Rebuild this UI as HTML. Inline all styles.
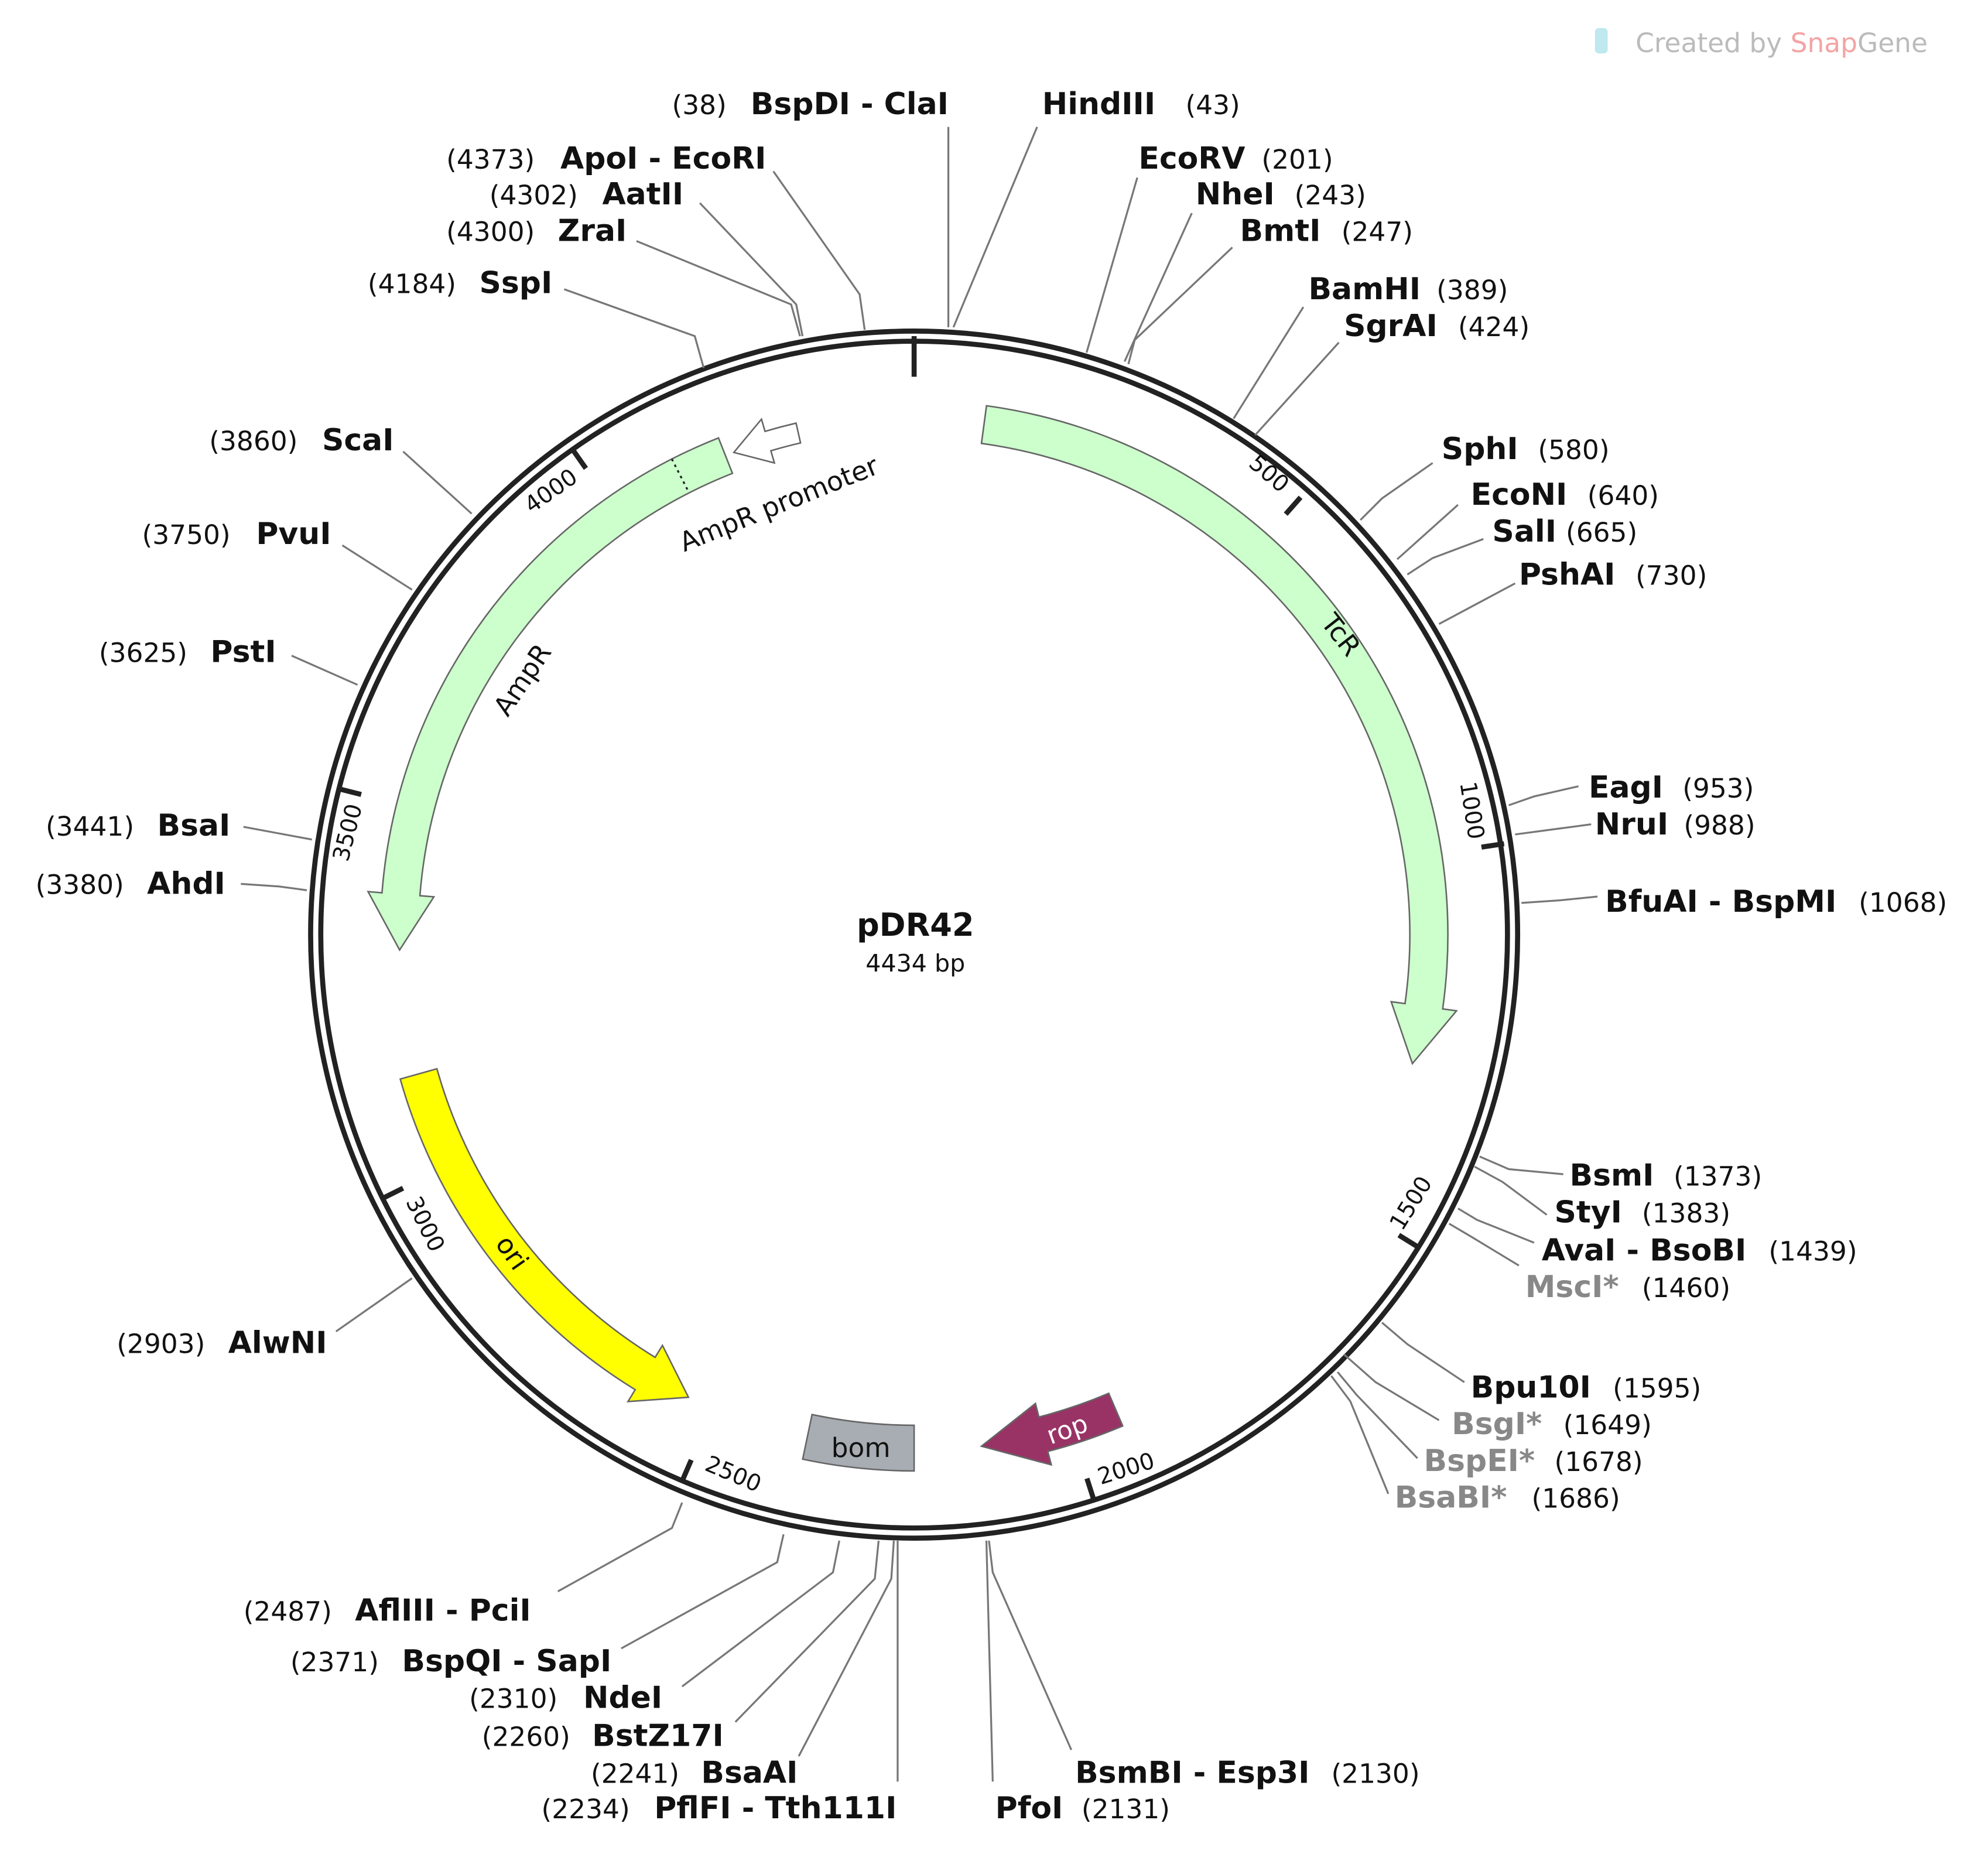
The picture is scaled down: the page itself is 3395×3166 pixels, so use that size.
<!DOCTYPE html>
<html><head><meta charset="utf-8"><style>
html,body{margin:0;padding:0;background:#fff;}
svg{display:block;}
text{font-family:"DejaVu Sans","Liberation Sans",sans-serif;}
.b{font-weight:bold;font-size:24px;fill:#111;}
.n{font-size:21px;fill:#111;}
.g{font-weight:bold;font-size:24px;fill:#888;}
.t{font-size:21px;fill:#111;}
.k{font-size:18px;fill:#111;}
.l{fill:none;stroke:#777;stroke-width:1.5;}
</style></head><body>
<svg width="3395" height="3166" viewBox="0 0 1568 1462" xmlns="http://www.w3.org/2000/svg">
<rect width="1568" height="1462" fill="#fff"/>
<rect x="1258" y="22" width="10" height="20" rx="3" fill="#bfe8ef"/>
<text x="1290" y="41" style="font-size:21px;fill:#bbb">Created by <tspan fill="#f4a3a3">Snap</tspan><tspan fill="#bbb">Gene</tspan></text>

<path d="M778.1,319.9 A421,421 0 0 1 1137.9,795.6 L1148.8,797.1 L1114,838.7 L1097.3,789.9 L1108.2,791.4 A391,391 0 0 0 774.1,349.6 Z" fill="#ccffcc" stroke="#666" stroke-width="1.2"/>
<path d="M566.7,345.3 A421,421 0 0 0 301.3,704 L290.3,703.1 L315.2,749.1 L342.2,707.2 L331.2,706.3 A391,391 0 0 1 577.7,373.2 Z" fill="#ccffcc" stroke="#666" stroke-width="1.2"/>
<line x1="529.9" y1="361.9" x2="543.5" y2="388.6" stroke="#222" stroke-width="1.5" stroke-dasharray="2,3"/>
<path d="M627.9,333.6 A414,414 0 0 0 603.4,340.1 L600.6,330.5 L578.8,356.7 L610.8,365 L608,355.4 A398,398 0 0 1 631.4,349.2 Z" fill="#fff" stroke="#666" stroke-width="1.2"/>
<path d="M315.7,850.9 A421,421 0 0 0 501,1095.9 L495.3,1105.3 L543,1101.9 L522.5,1061 L516.7,1070.4 A391,391 0 0 1 344.6,842.8 Z" fill="#ffff00" stroke="#666" stroke-width="1.2"/>
<path d="M640.5,1115.5 A387,387 0 0 0 721,1124 L721,1160 A423,423 0 0 1 633.1,1150.7 Z" fill="#a8adb3" stroke="#666" stroke-width="1.2"/>
<text x="679" y="1149" class="t" text-anchor="middle">bom</text>
<path d="M885.5,1124.5 A421,421 0 0 1 826.4,1144.6 L829.2,1155.2 L774.1,1140.5 L816.7,1106.8 L819.4,1117.5 A393,393 0 0 0 874.5,1098.8 Z" fill="#993366" stroke="#666" stroke-width="1.2"/>
<text x="842" y="1134" text-anchor="middle" transform="rotate(-20 842 1128)" style="font-size:20px;fill:#fff">rop</text>

<text transform="translate(1052,505) rotate(52)" class="t" text-anchor="middle">TcR</text>
<text transform="translate(418,540) rotate(-56)" class="t" text-anchor="middle">AmpR</text>
<text transform="translate(617,404) rotate(-22)" class="t" text-anchor="middle">AmpR promoter</text>
<text transform="translate(398,992) rotate(55)" class="t" text-anchor="middle">ori</text>

<circle cx="721" cy="737" r="476" fill="none" stroke="#222" stroke-width="4"/>
<circle cx="721" cy="737" r="468" fill="none" stroke="#222" stroke-width="4"/>
<line x1="721" y1="265" x2="721" y2="297" stroke="#222" stroke-width="4"/>
<g stroke="#222" stroke-width="4">
<line x1="1025.8" y1="392.1" x2="1014.1" y2="405.4"/>
<line x1="1186.3" y1="665.3" x2="1168.5" y2="668.0"/>
<line x1="1118.6" y1="983.5" x2="1103.3" y2="974.0"/>
<line x1="862.8" y1="1183.1" x2="857.3" y2="1165.9"/>
<line x1="538.1" y1="1167.8" x2="545.2" y2="1151.3"/>
<line x1="301.8" y1="945.0" x2="317.9" y2="937.0"/>
<line x1="267.5" y1="622.1" x2="284.9" y2="626.5"/>
<line x1="451.7" y1="354.5" x2="462.1" y2="369.3"/>
</g>
<g class="k">
<text transform="translate(997,378) rotate(40.6)" text-anchor="middle">500</text>
<text transform="translate(1155,640) rotate(81.2)" text-anchor="middle">1000</text>
<text transform="translate(1118,952) rotate(-58.2)" text-anchor="middle">1500</text>
<text transform="translate(890,1164) rotate(-17.6)" text-anchor="middle">2000</text>
<text transform="translate(576,1168) rotate(23)" text-anchor="middle">2500</text>
<text transform="translate(330,968) rotate(63.6)" text-anchor="middle">3000</text>
<text transform="translate(280,658) rotate(-75.8)" text-anchor="middle">3500</text>
<text transform="translate(438,392) rotate(-35.2)" text-anchor="middle">4000</text>
</g>

<text x="722" y="738" text-anchor="middle" style="font-weight:bold;font-size:25px;fill:#111">pDR42</text>
<text x="722" y="766" text-anchor="middle" style="font-size:19px;fill:#111">4434 bp</text>

<g class="l">
<polyline points="748,258 748,100"/>
<polyline points="752,258 818,100"/>
<polyline points="682,260 678,232 610,135"/>
<polyline points="633,265 628,240 552,160"/>
<polyline points="631,265 624,240 502,190"/>
<polyline points="555,290 548,265 445,228"/>
<polyline points="372,405 318,356"/>
<polyline points="325,465 270,430"/>
<polyline points="282,540 230,517"/>
<polyline points="246,662 192,652"/>
<polyline points="242,702 220,699 190,697"/>
<polyline points="325,1008 265,1050"/>
<polyline points="538,1185 530,1205 440,1255"/>
<polyline points="618,1210 613,1232 490,1300"/>
<polyline points="662,1215 657,1240 538,1330"/>
<polyline points="693,1215 690,1245 580,1358"/>
<polyline points="705,1215 703,1245 630,1385"/>
<polyline points="708,1215 708,1405"/>
<polyline points="780,1215 783,1240 845,1380"/>
<polyline points="778,1215 783,1405"/>
<polyline points="857,278 897,140"/>
<polyline points="887,285 940,168"/>
<polyline points="890,287 895,268 972,195"/>
<polyline points="973,330 1028,242"/>
<polyline points="990,343 1056,270"/>
<polyline points="1073,410 1090,393 1130,365"/>
<polyline points="1102,441 1150,398"/>
<polyline points="1110,453 1130,440 1170,425"/>
<polyline points="1135,492 1195,460"/>
<polyline points="1190,635 1210,628 1245,620"/>
<polyline points="1195,658 1255,650"/>
<polyline points="1200,712 1230,710 1260,707"/>
<polyline points="1167,912 1190,922 1233,926"/>
<polyline points="1163,920 1185,932 1220,958"/>
<polyline points="1150,953 1165,962 1210,980"/>
<polyline points="1143,965 1160,975 1198,998"/>
<polyline points="1090,1043 1110,1060 1155,1090"/>
<polyline points="1060,1068 1085,1090 1135,1120"/>
<polyline points="1055,1082 1070,1100 1118,1150"/>
<polyline points="1050,1085 1065,1105 1095,1178"/>
</g>

<text x="530" y="90" class="n">(38)</text><text x="592" y="90" class="b">BspDI - ClaI</text>
<text x="822" y="90" class="b">HindIII</text><text x="935" y="90" class="n">(43)</text>
<text x="352" y="133" class="n">(4373)</text><text x="442" y="133" class="b">ApoI - EcoRI</text>
<text x="386" y="161" class="n">(4302)</text><text x="475" y="161" class="b">AatII</text>
<text x="352" y="190" class="n">(4300)</text><text x="440" y="190" class="b">ZraI</text>
<text x="290" y="231" class="n">(4184)</text><text x="378" y="231" class="b">SspI</text>
<text x="165" y="355" class="n">(3860)</text><text x="254" y="355" class="b">ScaI</text>
<text x="112" y="429" class="n">(3750)</text><text x="202" y="429" class="b">PvuI</text>
<text x="78" y="522" class="n">(3625)</text><text x="166" y="522" class="b">PstI</text>
<text x="36" y="659" class="n">(3441)</text><text x="124" y="659" class="b">BsaI</text>
<text x="28" y="705" class="n">(3380)</text><text x="116" y="705" class="b">AhdI</text>
<text x="92" y="1067" class="n">(2903)</text><text x="180" y="1067" class="b">AlwNI</text>
<text x="192" y="1278" class="n">(2487)</text><text x="280" y="1278" class="b">AflIII - PciI</text>
<text x="229" y="1318" class="n">(2371)</text><text x="317" y="1318" class="b">BspQI - SapI</text>
<text x="370" y="1347" class="n">(2310)</text><text x="460" y="1347" class="b">NdeI</text>
<text x="380" y="1377" class="n">(2260)</text><text x="467" y="1377" class="b">BstZ17I</text>
<text x="466" y="1406" class="n">(2241)</text><text x="553" y="1406" class="b">BsaAI</text>
<text x="427" y="1434" class="n">(2234)</text><text x="516" y="1434" class="b">PflFI - Tth111I</text>
<text x="848" y="1406" class="b">BsmBI - Esp3I</text><text x="1050" y="1406" class="n">(2130)</text>
<text x="785" y="1434" class="b">PfoI</text><text x="853" y="1434" class="n">(2131)</text>
<text x="898" y="133" class="b">EcoRV</text><text x="995" y="133" class="n">(201)</text>
<text x="943" y="161" class="b">NheI</text><text x="1021" y="161" class="n">(243)</text>
<text x="978" y="190" class="b">BmtI</text><text x="1058" y="190" class="n">(247)</text>
<text x="1032" y="236" class="b">BamHI</text><text x="1133" y="236" class="n">(389)</text>
<text x="1060" y="265" class="b">SgrAI</text><text x="1150" y="265" class="n">(424)</text>
<text x="1137" y="362" class="b">SphI</text><text x="1213" y="362" class="n">(580)</text>
<text x="1160" y="398" class="b">EcoNI</text><text x="1252" y="398" class="n">(640)</text>
<text x="1177" y="427" class="b">SalI</text><text x="1235" y="427" class="n">(665)</text>
<text x="1198" y="461" class="b">PshAI</text><text x="1290" y="461" class="n">(730)</text>
<text x="1253" y="629" class="b">EagI</text><text x="1327" y="629" class="n">(953)</text>
<text x="1258" y="658" class="b">NruI</text><text x="1328" y="658" class="n">(988)</text>
<text x="1266" y="719" class="b">BfuAI - BspMI</text><text x="1466" y="719" class="n">(1068)</text>
<text x="1238" y="935" class="b">BsmI</text><text x="1320" y="935" class="n">(1373)</text>
<text x="1226" y="964" class="b">StyI</text><text x="1295" y="964" class="n">(1383)</text>
<text x="1216" y="994" class="b">AvaI - BsoBI</text><text x="1395" y="994" class="n">(1439)</text>
<text x="1203" y="1023" class="g">MscI*</text><text x="1295" y="1023" class="n">(1460)</text>
<text x="1160" y="1102" class="b">Bpu10I</text><text x="1272" y="1102" class="n">(1595)</text>
<text x="1145" y="1131" class="g">BsgI*</text><text x="1233" y="1131" class="n">(1649)</text>
<text x="1123" y="1160" class="g">BspEI*</text><text x="1226" y="1160" class="n">(1678)</text>
<text x="1100" y="1189" class="g">BsaBI*</text><text x="1208" y="1189" class="n">(1686)</text>
</svg>
</body></html>
